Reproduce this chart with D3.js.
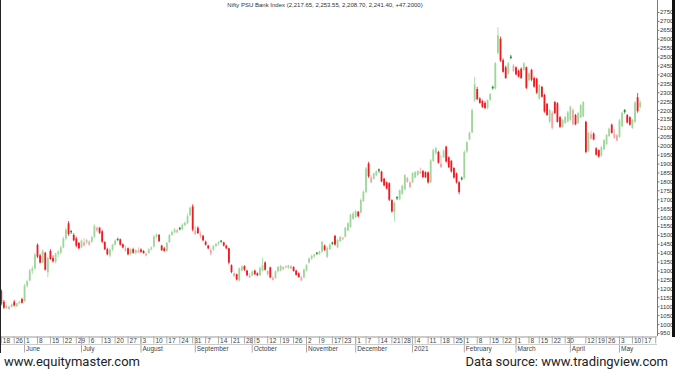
<!DOCTYPE html>
<html>
<head>
<meta charset="utf-8">
<script src="https://cdn.jsdelivr.net/npm/d3@7"></script>
<style>
	html, body { margin: 0; padding: 0; background: #fff; }
	svg { display: block; }
</style>
</head>
<body>
<div id="chart"></div>
<script>
// Trading calendar (NSE), axis runs a few sessions past the last candle
var startDate = '2020-05-18';
var endDate = '2021-05-24';
var holidays = ['2020-05-25', '2020-10-02', '2020-11-16', '2020-11-30', '2020-12-25',
	'2021-01-26', '2021-03-11', '2021-03-29', '2021-04-02', '2021-04-14', '2021-04-21', '2021-05-13'];

// Daily OHLC, one value per session starting 18 May 2020
var opens = [
	1187,1125,1090,1085,1097,1125,1100,1117,1140,1128,
	1215,1245,1298,1312,1445,1385,1345,1400,1290,1410,
	1370,1350,1395,1400,1430,1480,1565,1522,1500,1480,
	1455,1430,1440,1458,1445,1462,1490,1525,1540,1520,
	1460,1420,1385,1418,1445,1478,1475,1448,1412,1425,
	1392,1420,1400,1402,1418,1410,1385,1398,1420,1435,
	1490,1500,1440,1425,1410,1460,1500,1515,1515,1540,
	1532,1555,1565,1610,1660,1505,1540,1492,1495,1462,
	1440,1395,1418,1438,1450,1468,1458,1440,1425,1330,
	1270,1280,1245,1300,1325,1300,1262,1272,1300,1285,
	1274,1300,1345,1280,1318,1248,1258,1296,1300,1308,
	1318,1315,1312,1320,1300,1285,1245,1262,1300,1345,
	1368,1380,1400,1394,1405,1440,1378,1420,1458,1495,
	1430,1465,1476,1490,1525,1545,1590,1600,1630,1625,
	1690,1740,1900,1795,1815,1835,1868,1855,1815,1795,
	1790,1695,1630,1712,1700,1730,1755,1798,1768,1795,
	1822,1836,1846,1858,1852,1850,1795,1915,1960,1965,
	1880,1935,1995,1935,1915,1875,1845,1795,1820,1820,
	1968,2035,2075,2255,2318,2265,2250,2240,2212,2258,
	2330,2322,2520,2600,2480,2440,2405,2500,2420,2440,
	2420,2432,2425,2440,2368,2425,2380,2375,2265,2330,
	2285,2235,2135,2100,2245,2238,2160,2106,2128,2136,
	2145,2120,2172,2128,2160,2165,2134,1972,2040,2068,
	1985,1975,1945,1980,2010,2055,2118,2045,2030,2050,
	2110,2200,2172,2160,2100,2134,2272,2217.65
];
var highs = [
	1195,1135,1108,1105,1115,1135,1120,1130,1148,1225,
	1250,1310,1325,1400,1452,1395,1420,1405,1378,1420,
	1385,1400,1415,1440,1490,1540,1578,1528,1510,1490,
	1460,1475,1482,1478,1470,1495,1560,1548,1545,1528,
	1465,1428,1425,1450,1475,1485,1480,1452,1440,1430,
	1425,1428,1420,1430,1425,1415,1400,1425,1435,1500,
	1510,1505,1445,1432,1460,1505,1525,1540,1535,1545,
	1565,1575,1620,1660,1672,1548,1548,1520,1500,1468,
	1445,1425,1445,1455,1465,1472,1462,1445,1428,1335,
	1290,1282,1318,1330,1330,1304,1285,1300,1305,1290,
	1322,1372,1352,1302,1322,1270,1302,1328,1332,1325,
	1330,1332,1330,1324,1304,1290,1272,1312,1336,1375,
	1390,1395,1405,1412,1468,1446,1435,1452,1462,1500,
	1478,1495,1490,1545,1572,1620,1630,1640,1634,1705,
	1750,1880,1910,1835,1850,1862,1872,1860,1820,1800,
	1795,1700,1685,1718,1755,1782,1840,1825,1800,1852,
	1858,1862,1878,1864,1856,1856,1925,1985,1995,1972,
	1945,1980,2000,1940,1920,1880,1850,1802,1828,1975,
	2025,2080,2208,2386,2330,2272,2258,2250,2260,2295,
	2338,2470,2665,2612,2490,2450,2470,2510,2458,2445,
	2428,2440,2470,2445,2412,2432,2388,2382,2345,2336,
	2292,2240,2208,2195,2252,2245,2166,2150,2168,2195,
	2225,2210,2178,2190,2235,2250,2140,2078,2085,2075,
	1992,1980,1998,2038,2065,2102,2125,2094,2066,2150,
	2192,2206,2178,2165,2150,2250,2296,2253.55
];
var lows = [
	1105,1085,1085,1080,1092,1098,1095,1110,1115,1125,
	1205,1238,1280,1305,1370,1340,1340,1300,1262,1360,
	1345,1340,1375,1390,1425,1470,1495,1505,1465,1430,
	1420,1425,1435,1448,1440,1455,1482,1515,1505,1455,
	1415,1385,1375,1410,1440,1465,1440,1425,1405,1385,
	1385,1395,1390,1398,1400,1395,1380,1395,1412,1428,
	1480,1460,1410,1405,1405,1455,1495,1508,1508,1525,
	1525,1548,1560,1605,1520,1498,1505,1480,1465,1440,
	1420,1385,1410,1430,1440,1455,1435,1420,1335,1285,
	1262,1245,1238,1295,1298,1268,1258,1268,1275,1268,
	1270,1295,1300,1272,1258,1244,1254,1290,1296,1302,
	1312,1310,1308,1294,1272,1260,1240,1256,1295,1340,
	1360,1370,1388,1388,1400,1410,1370,1415,1444,1440,
	1425,1460,1470,1485,1520,1540,1585,1595,1598,1620,
	1685,1735,1820,1790,1810,1830,1848,1795,1772,1755,
	1690,1625,1575,1695,1695,1725,1750,1792,1762,1790,
	1818,1830,1842,1818,1820,1788,1790,1910,1950,1900,
	1875,1930,1905,1875,1850,1815,1788,1728,1805,1812,
	1960,2030,2070,2245,2255,2236,2212,2205,2205,2250,
	2315,2315,2510,2470,2410,2375,2400,2485,2412,2395,
	2382,2375,2420,2318,2360,2362,2325,2290,2258,2270,
	2185,2168,2128,2092,2180,2130,2100,2100,2122,2130,
	2140,2115,2115,2122,2155,2160,1958,1965,2035,2030,
	1945,1932,1938,1975,2005,2048,2068,2040,2025,2045,
	2104,2180,2125,2112,2095,2128,2185,2208.7
];
var closes = [
	1114,1092,1100,1097,1110,1105,1117,1125,1120,1215,
	1240,1300,1312,1390,1378,1345,1410,1305,1370,1365,
	1352,1395,1405,1430,1480,1530,1505,1515,1470,1440,
	1425,1468,1458,1470,1462,1488,1550,1540,1512,1462,
	1420,1392,1418,1445,1468,1472,1445,1430,1425,1392,
	1420,1400,1415,1412,1405,1398,1395,1420,1430,1490,
	1502,1465,1415,1410,1455,1500,1515,1530,1526,1532,
	1558,1568,1605,1652,1530,1525,1510,1505,1470,1445,
	1425,1415,1438,1450,1460,1462,1440,1425,1345,1292,
	1285,1250,1312,1322,1305,1274,1272,1295,1280,1274,
	1315,1330,1305,1298,1262,1258,1296,1320,1326,1318,
	1324,1328,1325,1298,1276,1264,1262,1306,1330,1368,
	1382,1390,1394,1406,1460,1416,1428,1446,1450,1446,
	1472,1488,1484,1540,1565,1612,1620,1632,1605,1695,
	1742,1872,1828,1822,1845,1858,1860,1800,1778,1760,
	1697,1632,1678,1705,1750,1775,1835,1820,1795,1846,
	1852,1858,1855,1825,1823,1795,1918,1975,1985,1905,
	1900,1972,1912,1880,1856,1822,1795,1740,1812,1965,
	2020,2072,2200,2345,2262,2240,2218,2212,2255,2290,
	2322,2462,2620,2478,2415,2380,2462,2492,2450,2400,
	2388,2380,2462,2325,2405,2370,2332,2298,2340,2275,
	2192,2173,2200,2185,2182,2134,2106,2145,2160,2188,
	2218,2200,2120,2182,2228,2245,1965,2070,2065,2036,
	1950,1940,1992,2032,2060,2096,2072,2066,2058,2142,
	2185,2190,2130,2118,2145,2243,2194.2,2241.4
];

// Price axis labels
var priceTicks = [950,1000,1050,1100,1150,1200,1250,1300,1350,1400,1450,1500,1550,1600,
	1650,1700,1750,1800,1850,1900,1950,2000,2050,2100,2150,2200,2250,2300,2350,2400,
	2450,2500,2550,2600,2650,2700,2750];

// Month row labels, January shows the year
var monthLabels = ['2021','February','March','April','May','June','July','August',
	'September','October','November','December'];

var titleText = 'Nifty PSU Bank Index (2,217.65, 2,253.55, 2,208.70, 2,241.40, +47.2000)';
var leftNote = 'www.equitymaster.com';
var rightNote = 'Data source: www.tradingview.com';

var fullWidth = 675, fullHeight = 371;
var plot = {left: 0, right: 657, top: 0, bottom: 336};

var svg = d3.select('#chart')
	.append('svg')
	.attr('width', fullWidth)
	.attr('height', fullHeight);

// Build the list of trading sessions
var parse = d3.timeParse('%Y-%m-%d');
var fmt = d3.timeFormat('%Y-%m-%d');
var dates = d3.timeDay.range(parse(startDate), d3.timeDay.offset(parse(endDate), 1))
	.filter(function(d) {
		var wd = d.getDay();
		return wd !== 0 && wd !== 6 && holidays.indexOf(fmt(d)) < 0;
	});
var keys = dates.map(fmt);

var candles = closes.map(function(c, i) {
	return {
		key: keys[i], o: opens[i], h: highs[i], l: lows[i], c: c,
		pc: i > 0 ? closes[i - 1] : opens[i]
	};
});

// Scales
var x = d3.scaleBand()
	.domain(keys)
	.range([plot.left, plot.right])
	.paddingInner(0.3)
	.paddingOuter(0.15);

var y = d3.scaleLinear()
	.domain([950, 2750])
	.range([333, 12]);

var half = x.bandwidth() / 2;
function cx(k) { return x(k) + half; }

// Hollow candle colours: hue from close vs previous close, filled when close < open
function candleColor(d) {
	var up = d.c >= d.pc;
	var hollow = d.c > d.o;
	if (up) return hollow ? '#9fd69b' : '#1b8c2c';
	return hollow ? '#f4a4a4' : '#ee1b22';
}

svg.append('clipPath').attr('id', 'plotclip')
	.append('rect')
	.attr('x', plot.left).attr('y', plot.top)
	.attr('width', plot.right - plot.left).attr('height', 360);

var g = svg.append('g').attr('clip-path', 'url(#plotclip)');

// Wicks
g.selectAll('line.wick')
	.data(candles)
	.enter()
	.append('line')
	.attr('class', 'wick')
	.attr('x1', function(d) { return cx(d.key); })
	.attr('x2', function(d) { return cx(d.key); })
	.attr('y1', function(d) { return y(d.h); })
	.attr('y2', function(d) { return y(d.l); })
	.attr('stroke', candleColor)
	.attr('stroke-width', 0.8);

// Bodies
g.selectAll('rect.body')
	.data(candles)
	.enter()
	.append('rect')
	.attr('class', 'body')
	.attr('x', function(d) { return x(d.key); })
	.attr('width', x.bandwidth())
	.attr('y', function(d) { return y(Math.max(d.o, d.c)); })
	.attr('height', function(d) { return Math.max(0.9, Math.abs(y(d.o) - y(d.c))); })
	.attr('fill', candleColor);

// Price axis on the right
var yAxis = svg.append('g')
	.attr('transform', 'translate(' + (plot.right + 0.5) + ',0)')
	.call(d3.axisRight(y).tickValues(priceTicks).tickSize(2).tickPadding(0.5).tickFormat(d3.format('d')));
yAxis.select('.domain').attr('stroke', '#777').attr('d', 'M0,0V336');
yAxis.selectAll('.tick line').attr('stroke', '#777');
yAxis.selectAll('.tick text')
	.attr('fill', '#333')
	.style('font', '6px "Liberation Sans", Arial, sans-serif');

// Time axis: week starts on the top row, month starts on the bottom row
var weekKeys = keys.filter(function(k, i) {
	return i === 0 || d3.timeMonday.floor(dates[i]).getTime() !== d3.timeMonday.floor(dates[i - 1]).getTime();
});
var monthKeys = keys.filter(function(k, i) {
	return i > 0 && dates[i].getMonth() !== dates[i - 1].getMonth();
});
// hide a day label that would run into the previous two-digit label
weekKeys = weekKeys.filter(function(k, i) {
	if (i === 0) return true;
	var prev = weekKeys[i - 1];
	return !(+prev.slice(8) >= 10 && cx(k) - cx(prev) < 9);
});

var axisG = svg.append('g').attr('clip-path', 'url(#plotclip)');

var dayAxis = axisG.append('g')
	.attr('transform', 'translate(0,' + (plot.bottom + 0.5) + ')')
	.call(d3.axisBottom(x).tickValues(weekKeys).tickSizeInner(7).tickSizeOuter(0)
		.tickFormat(function(k) { return +k.slice(8); }));
dayAxis.select('.domain').attr('stroke', '#999');
dayAxis.selectAll('.tick line').attr('stroke', '#aaa');
dayAxis.selectAll('.tick text')
	.attr('x', 1.5).attr('y', 1.8).attr('dy', '0.71em')
	.attr('text-anchor', 'start')
	.attr('fill', '#444')
	.style('font', '6.5px "Liberation Sans", Arial, sans-serif');

var monthAxis = axisG.append('g')
	.attr('transform', 'translate(0,' + (plot.bottom + 0.5) + ')')
	.call(d3.axisBottom(x).tickValues(monthKeys).tickSizeInner(16).tickSizeOuter(0)
		.tickFormat(function(k) { return monthLabels[+k.slice(5, 7) - 1]; }));
monthAxis.select('.domain').remove();
monthAxis.selectAll('.tick line').attr('stroke', '#aaa');
monthAxis.selectAll('.tick text')
	.attr('x', 1.5).attr('y', 9.5).attr('dy', '0.71em')
	.attr('text-anchor', 'start')
	.attr('fill', '#444')
	.style('font', '6.5px "Liberation Sans", Arial, sans-serif');

// line between day row and month row
svg.append('line')
	.attr('x1', 0).attr('x2', plot.right)
	.attr('y1', plot.bottom + 8.5).attr('y2', plot.bottom + 8.5)
	.attr('stroke', '#ccc');

// Frame edges
svg.append('rect').attr('x', 0).attr('y', 0).attr('width', 1).attr('height', 353).attr('fill', '#222');
svg.append('rect').attr('x', 672).attr('y', 0).attr('width', 3).attr('height', 337).attr('fill', '#111');

// Title
svg.append('text')
	.attr('x', 325).attr('y', 7)
	.attr('text-anchor', 'middle')
	.attr('fill', '#333')
	.style('font', '6px "Liberation Sans", Arial, sans-serif')
	.text(titleText);

// Footer
svg.append('text')
	.attr('x', 4).attr('y', 366)
	.attr('fill', '#222')
	.style('font', '13px Roboto, Arial, sans-serif')
	.text(leftNote);
svg.append('text')
	.attr('x', 668).attr('y', 366)
	.attr('text-anchor', 'end')
	.attr('fill', '#222')
	.style('font', '13px Roboto, Arial, sans-serif')
	.text(rightNote);
</script>
</body>
</html>
